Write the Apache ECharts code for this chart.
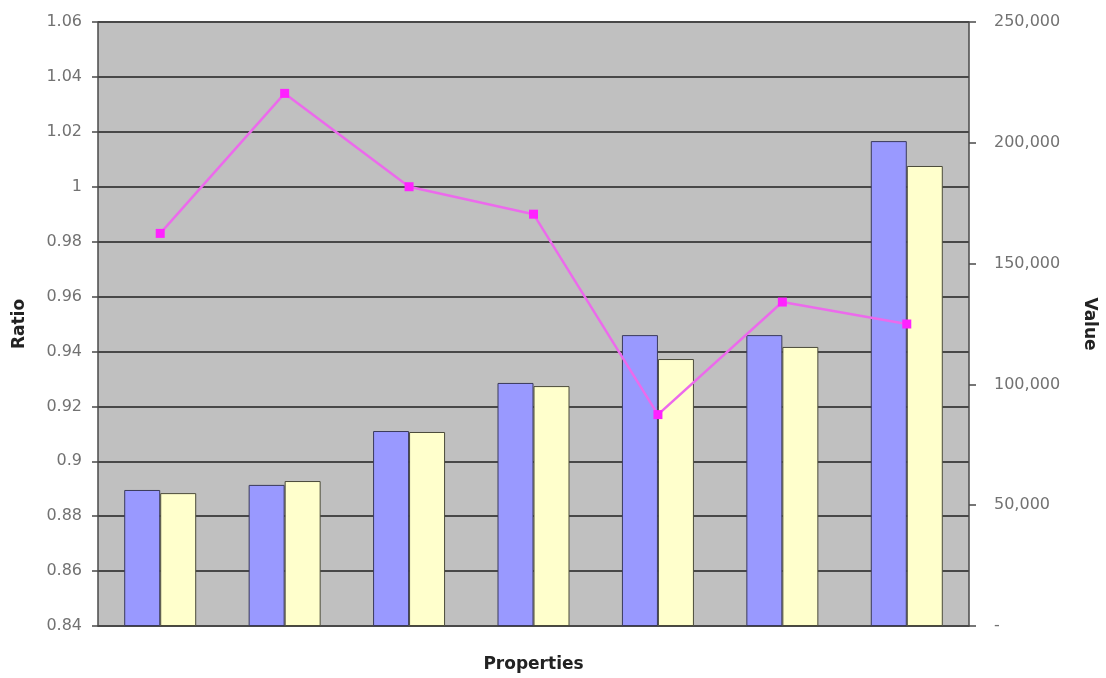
<!DOCTYPE html>
<html>
<head>
<meta charset="utf-8">
<title>Ratio and Value by Property</title>
<script src="https://cdn.jsdelivr.net/npm/echarts@6/dist/echarts.min.js"></script>
<style>
  html, body { margin: 0; padding: 0; background: #ffffff; }
  #chart { width: 1106px; height: 678px; }
</style>
</head>
<body>
<div id="chart"></div>
<script>
// Seven properties (unlabelled on the category axis)
const categories = ['P1', 'P2', 'P3', 'P4', 'P5', 'P6', 'P7'];

// Value series (right axis)
const valueBlue = [56300, 58400, 80700, 100600, 120400, 120400, 200700];
const valueYellow = [55000, 60000, 80300, 99300, 110500, 115500, 190400];

// Ratio series (left axis)
const ratio = [0.983, 1.034, 1.000, 0.990, 0.917, 0.958, 0.950];

// Axis ranges
const ratioMin = 0.84, ratioMax = 1.06, ratioStep = 0.02;
const valueMin = 0, valueMax = 250000, valueStep = 50000;

const labelFont = { fontFamily: 'DejaVu Sans', fontSize: 16, color: '#727272' };
const nameFont = { fontFamily: 'DejaVu Sans', fontWeight: 'bold', fontSize: 17, color: '#222222' };

const chart = echarts.init(document.getElementById('chart'), null, { renderer: 'canvas' });

chart.setOption({
  backgroundColor: '#ffffff',
  animation: false,
  grid: {
    left: 98, right: 136, top: 22, bottom: 52,
    show: true,
    backgroundColor: '#c0c0c0',
    borderWidth: 0
  },
  xAxis: {
    type: 'category',
    data: categories,
    name: 'Properties',
    nameLocation: 'middle',
    nameGap: 30,
    nameTextStyle: nameFont,
    axisLine: { show: true, lineStyle: { color: '#4a4a4a', width: 1.5 } },
    axisTick: { show: false },
    axisLabel: { show: false },
    splitLine: { show: false }
  },
  yAxis: [
    {
      type: 'value',
      min: ratioMin,
      max: ratioMax,
      interval: ratioStep,
      position: 'left',
      name: 'Ratio',
      nameLocation: 'middle',
      nameGap: 70,
      nameRotate: 90,
      nameTextStyle: nameFont,
      axisLine: { show: true, lineStyle: { color: '#4a4a4a', width: 1.5 } },
      axisTick: { show: true, length: 6, lineStyle: { color: '#4a4a4a', width: 1.5 } },
      axisLabel: Object.assign({}, labelFont, {
        margin: 16,
        formatter: v => String(parseFloat(v.toFixed(2)))
      }),
      splitLine: { show: true, lineStyle: { color: '#484848', width: 2 } }
    },
    {
      type: 'value',
      min: valueMin,
      max: valueMax,
      interval: valueStep,
      position: 'right',
      name: 'Value',
      nameLocation: 'middle',
      nameGap: 112,
      nameRotate: -90,
      nameTextStyle: nameFont,
      axisLine: { show: true, lineStyle: { color: '#4a4a4a', width: 1.5 } },
      axisTick: { show: true, length: 7, lineStyle: { color: '#4a4a4a', width: 1.5 } },
      axisLabel: Object.assign({}, labelFont, {
        margin: 25,
        formatter: v => v === 0 ? '-' : v.toLocaleString('en-US')
      }),
      splitLine: { show: false }
    }
  ],
  series: [
    {
      name: 'Value 1',
      type: 'bar',
      yAxisIndex: 1,
      data: valueBlue,
      barWidth: 36,
      barGap: '0%',
      itemStyle: { color: '#9999ff', borderColor: '#3a3a5a', borderWidth: 1 }
    },
    {
      name: 'Value 2',
      type: 'bar',
      yAxisIndex: 1,
      data: valueYellow,
      barWidth: 36,
      barGap: '0%',
      itemStyle: { color: '#ffffcc', borderColor: '#4a4a3a', borderWidth: 1 }
    },
    {
      name: 'Ratio',
      type: 'line',
      yAxisIndex: 0,
      data: ratio,
      symbol: 'rect',
      symbolSize: 9,
      lineStyle: { color: '#ec6aec', width: 2.5 },
      itemStyle: { color: '#ff22ff' },
      z: 5
    }
  ]
});
</script>
</body>
</html>
